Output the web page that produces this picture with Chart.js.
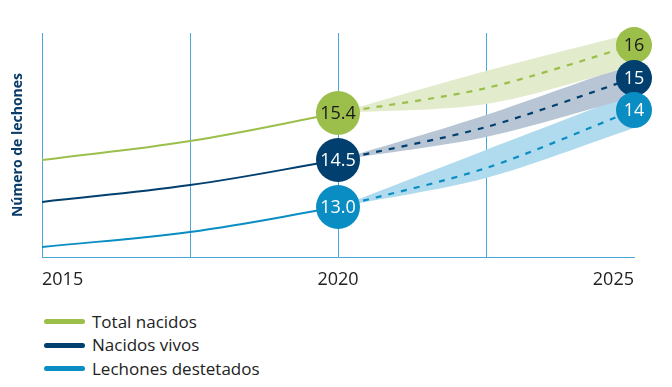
<!DOCTYPE html>
<html><head><meta charset="utf-8">
<script src="https://cdn.jsdelivr.net/npm/chart.js@4.4.1/dist/chart.umd.min.js"></script>
<style>
html,body{margin:0;padding:0;background:#fff;}
#wrap{position:relative;width:672px;height:387px;font-family:"Open Sans",sans-serif;overflow:hidden;}
#cwrap{position:absolute;left:0;top:0;width:672px;height:300px;}
.legend{position:absolute;left:44px;top:310px;}
.item{display:flex;align-items:center;height:23.5px;}
.sw{width:41px;height:5px;border-radius:3px;margin-right:7px;}
.lbl{font-size:17px;color:#222;line-height:20px;}
</style></head>
<body><div id="wrap"><div id="cwrap"><canvas id="cv" width="672" height="300"></canvas></div><div class="legend" id="legend"></div></div>
<script>
// ---- data ----
const histYears = [2015, 2017.5, 2020];
const projYears = [2020, 2022.5, 2025];
const xTickYears = [2015, 2020, 2025];
const seriesNames = ['Total nacidos', 'Nacidos vivos', 'Lechones destetados'];
// schematic vertical position (axis has no ticks), 0–100
const totalHist = [43.3, 51.8, 64.3];
const vivosHist = [24.6, 32.1, 43.3];
const destHist  = [4.5, 11.2, 22.3];
const totalProj = [64.3, 75.4, 94.6];
const vivosProj = [43.3, 58.0, 79.9];
const destProj  = [22.3, 39.7, 65.6];
const totalHigh = [64.3, 83.0, 100.0];
const totalLow  = [64.3, 68.3, 85.3];
const vivosHigh = [43.3, 63.4, 86.6];
const vivosLow  = [43.3, 53.6, 71.4];
const destHigh  = [22.3, 47.8, 73.2];
const destLow   = [22.3, 35.3, 57.6];
const labels2020 = ['15.4', '14.5', '13.0'];
const labels2025 = ['16', '15', '14'];

// ---- styles ----
const colors = ['#9bbf4a', '#003f6e', '#0a8dc2'];
const bandColors = ['#e2ebcb', '#b7c5d5', '#b0dbee'];
const textColors = ['#1a1a1a', '#ffffff', '#ffffff'];
const gridColor = '#4aa8d8';

const hist = [totalHist, vivosHist, destHist];
const proj = [totalProj, vivosProj, destProj];
const highs = [totalHigh, vivosHigh, destHigh];
const lows = [totalLow, vivosLow, destLow];
const pts = (xs, ys) => xs.map((x, i) => ({x: x, y: ys[i]}));

const datasets = [];
const circleData = [], circleColors = [], circleRadii = [], circleLabels = [], circleText = [];
for (let i = 0; i < 3; i++) {
  circleData.push({x: 2020, y: hist[i][2]}); circleColors.push(colors[i]); circleRadii.push(22);
  circleLabels.push(labels2020[i]); circleText.push(textColors[i]);
}
for (let i = 0; i < 3; i++) {
  circleData.push({x: 2025, y: proj[i][2]}); circleColors.push(colors[i]); circleRadii.push(18);
  circleLabels.push(labels2025[i]); circleText.push(textColors[i]);
}
datasets.push({
  type: 'scatter', data: circleData, pointBackgroundColor: circleColors,
  pointBorderWidth: 0, pointRadius: circleRadii, pointHoverRadius: circleRadii,
  order: 0, clip: false, isCircles: true
});
for (let i = 0; i < 3; i++) {
  datasets.push({ data: pts(histYears, hist[i]), borderColor: colors[i], borderWidth: 2,
    pointRadius: 0, tension: 0.4, fill: false, order: 2 });
  datasets.push({ data: pts(projYears, proj[i]), borderColor: colors[i], borderWidth: 2.2,
    borderDash: [6, 7], pointRadius: 0, tension: 0.3, fill: false, order: 2 });
  datasets.push({ data: pts(projYears, highs[i]), borderWidth: 0, borderColor: 'rgba(0,0,0,0)',
    backgroundColor: bandColors[i], pointRadius: 0, tension: 0.3, fill: '+1', order: 5 + i });
  datasets.push({ data: pts(projYears, lows[i]), borderWidth: 0, borderColor: 'rgba(0,0,0,0)',
    pointRadius: 0, tension: 0.3, fill: false, order: 5 + i });
}

const circleLabelPlugin = {
  id: 'circleLabels',
  afterDatasetsDraw(chart) {
    const ctx = chart.ctx;
    chart.data.datasets.forEach((ds, di) => {
      if (!ds.isCircles) return;
      const meta = chart.getDatasetMeta(di);
      meta.data.forEach((el, j) => {
        ctx.save();
        ctx.fillStyle = circleText[j];
        ctx.font = '18px "Open Sans"';
        ctx.textAlign = 'center';
        ctx.textBaseline = 'middle';
        ctx.fillText(circleLabels[j], el.x, el.y + 1);
        ctx.restore();
      });
    });
  }
};

new Chart(document.getElementById('cv'), {
  type: 'line',
  data: { datasets: datasets },
  plugins: [circleLabelPlugin],
  options: {
    responsive: false, animation: false, devicePixelRatio: 1,
    layout: { padding: { top: 33, right: 38, left: 0, bottom: 0 } },
    plugins: { legend: { display: false }, tooltip: { enabled: false } },
    scales: {
      x: {
        type: 'linear', min: 2015, max: 2025,
        afterFit: s => { s.height = 43; },
        ticks: {
          stepSize: 2.5, autoSkip: false, maxRotation: 0, align: 'inner', padding: 12,
          color: '#222', font: { family: 'Open Sans', size: 18 },
          callback: v => xTickYears.includes(v) ? String(v) : ''
        },
        grid: {
          drawTicks: false, lineWidth: 1,
          color: c => (c.tick && c.tick.value === 2025) ? 'rgba(0,0,0,0)' : gridColor
        },
        border: { color: gridColor, width: 1 }
      },
      y: {
        min: 0, max: 100,
        afterFit: s => { s.width = 42; },
        ticks: { display: false },
        grid: { display: false },
        border: { display: false },
        title: { display: true, text: 'Número de lechones', color: '#0b3d6b',
          font: { family: 'Open Sans', size: 14, weight: 'bold' }, padding: { top: 10, bottom: 4 } }
      }
    }
  }
});

const lg = document.getElementById('legend');
seriesNames.forEach((n, i) => {
  const it = document.createElement('div'); it.className = 'item';
  const sw = document.createElement('div'); sw.className = 'sw'; sw.style.background = colors[i];
  const lb = document.createElement('span'); lb.className = 'lbl'; lb.textContent = n;
  it.appendChild(sw); it.appendChild(lb); lg.appendChild(it);
});
</script>
</body></html>
